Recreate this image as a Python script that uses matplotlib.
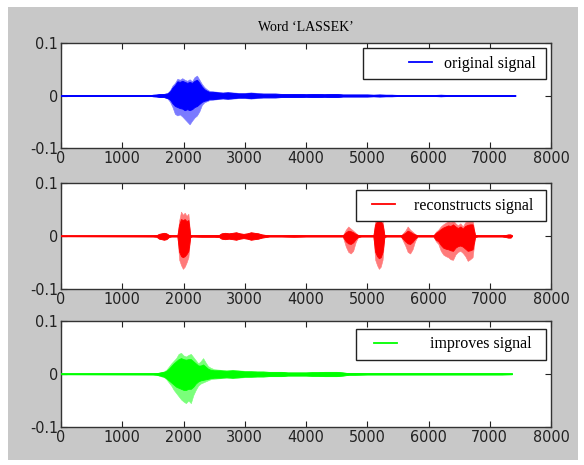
import matplotlib
matplotlib.use("Agg")
import matplotlib.pyplot as plt
from matplotlib.patches import Rectangle
from matplotlib.legend_handler import HandlerLine2D
from matplotlib import font_manager
import numpy as np

# ---------------- data (amplitudes in units of 0.001) ----------------
title = "Word \u2018LASSEK\u2019"
labels = ["original signal", "reconstructs signal", "improves signal"]
x_ticks = [0, 1000, 2000, 3000, 4000, 5000, 6000, 7000, 8000]
y_ticks = [-0.1, 0, 0.1]
y_ticklabels = ["-0.1", "0", "0.1"]

# original signal envelope
orig_x = [0, 1450, 1500, 1560, 1620, 1680, 1740, 1780, 1820, 1860, 1900, 1940, 1980, 2020,
          2060, 2100, 2140, 2180, 2220, 2260, 2300, 2340, 2380, 2420, 2480, 2560, 2640, 2720,
          2800, 2900, 3000, 3100, 3200, 3300, 3400, 3500, 3600, 3700, 3800, 3900, 4000, 4100,
          4200, 4300, 4400, 4500, 4600, 4700, 4800, 4900, 5000, 5100, 5200, 5300, 5400, 5500,
          5700, 5900, 6100, 6200, 6300, 6500, 6700, 6900, 7100, 7300, 7420]
orig_hi = [0.5, 0.5, 1.5, 2, 3, 3, 5, 10, 19, 24, 32, 30, 33, 30, 28, 31, 27, 35, 38, 30, 22, 16,
           12, 9, 8, 7, 6, 7, 6, 5, 5, 6, 5, 4, 4, 4, 3, 3, 3, 3, 2.5, 3, 3, 2.5, 3, 3, 2, 2, 2,
           2, 2, 1.5, 2, 1.5, 1.5, 1, 1, 1, 1, 1.5, 1, 1, 1, 1, 1, 1, 0.5]
orig_lo = [0.5, 0.5, 1.5, 2, 3, 3, 6, 12, 22, 35, 38, 36, 40, 45, 50, 55, 48, 42, 38, 30, 18, 13,
           11, 9, 8, 7, 6, 7, 6, 5, 5, 6, 5, 4, 4, 4, 3, 3, 3, 3, 2.5, 3, 3, 2.5, 3, 3, 2, 2, 2,
           2, 2, 1.5, 2, 1.5, 1.5, 1, 1, 1, 1, 1.5, 1, 1, 1, 1, 1, 1, 0.5]
orig_core_hi = [0.5, 0.5, 1.5, 2, 3, 3, 4, 8, 15, 20, 27, 26, 28, 26, 24, 26, 24, 28, 30, 24, 17,
                12, 9, 7, 7, 6, 5, 6, 5, 4, 4, 5, 4, 3.5, 3.5, 3.5, 3, 3, 3, 3, 2.5, 3, 3, 2.5,
                3, 3, 2, 2, 2, 2, 2, 1.5, 2, 1.5, 1.5, 1, 1, 1, 1, 1.5, 1, 1, 1, 1, 1, 1, 0.5]
orig_core_lo = [0.5, 0.5, 1.5, 2, 3, 3, 5, 8, 15, 20, 22, 24, 25, 28, 26, 28, 26, 22, 20, 16, 12,
                10, 9, 7, 7, 6, 5, 6, 5, 4, 4, 5, 4, 3.5, 3.5, 3.5, 3, 3, 3, 3, 2.5, 3, 3, 2.5,
                3, 3, 2, 2, 2, 2, 2, 1.5, 2, 1.5, 1.5, 1, 1, 1, 1, 1.5, 1, 1, 1, 1, 1, 1, 0.5]

# reconstructed signal envelope
rec_x = [0, 1500, 1560, 1600, 1640, 1680, 1720, 1760, 1800, 1900, 1930, 1960, 1990, 2020, 2050,
         2080, 2110, 2140, 2300, 2500, 2580, 2620, 2680, 2740, 2800, 2860, 2920, 2980, 3040,
         3100, 3160, 3220, 3280, 3340, 3400, 3600, 3800, 4000, 4200, 4400, 4600, 4650, 4690,
         4730, 4770, 4810, 4850, 4900, 5000, 5100, 5130, 5160, 5190, 5220, 5250, 5280, 5310,
         5340, 5400, 5550, 5620, 5660, 5700, 5740, 5780, 5820, 5900, 6000, 6080, 6120, 6160,
         6200, 6240, 6280, 6320, 6360, 6400, 6440, 6480, 6520, 6560, 6600, 6640, 6680, 6720,
         6760, 6800, 6900, 7000, 7100, 7200, 7260, 7300, 7340, 7360]
rec_hi = [0.5, 1, 1.5, 4, 5, 6, 5, 2, 1, 1, 30, 46, 40, 44, 38, 42, 2, 1, 1.5, 1.5, 2, 5, 6, 5,
          6, 7, 5, 4, 5, 7, 6, 5, 3, 2, 1, 1, 1.5, 1, 1, 1, 1, 12, 18, 14, 10, 6, 2, 1, 1, 1, 30,
          35, 35, 35, 30, 2, 1, 1, 1, 1, 10, 18, 12, 8, 4, 1, 1, 1, 1, 8, 12, 18, 22, 25, 28, 26,
          30, 24, 20, 24, 18, 26, 28, 30, 30, 2, 1, 1, 1, 1, 1, 2, 3, 3, 0.5]
rec_lo = [0.5, 1, 1.5, 5, 6, 7, 6, 2, 1, 1, 45, 55, 62, 58, 50, 40, 2, 1, 1.5, 1.5, 2, 5, 6, 5,
          6, 7, 5, 4, 5, 7, 6, 5, 3, 2, 1, 1, 1.5, 1, 1, 1, 1, 20, 30, 33, 28, 12, 2, 1, 1, 1, 45,
          55, 62, 58, 45, 2, 1, 1, 1, 1, 18, 30, 33, 25, 10, 1, 1, 1, 1, 10, 15, 28, 35, 38, 40,
          44, 45, 35, 30, 28, 32, 38, 47, 44, 40, 2, 1, 1, 1, 1, 1, 2, 3, 3, 0.5]
rec_core_hi = [0.5, 1, 1.5, 4, 5, 6, 5, 2, 1, 1, 22, 32, 30, 32, 28, 30, 2, 1, 1.5, 1.5, 2, 5, 6,
               5, 6, 7, 5, 4, 5, 7, 6, 5, 3, 2, 1, 1, 1.5, 1, 1, 1, 1, 7, 10, 9, 7, 4, 2, 1, 1,
               1, 22, 28, 28, 28, 22, 2, 1, 1, 1, 1, 6, 10, 8, 5, 3, 1, 1, 1, 1, 6, 9, 13, 16, 18,
               20, 19, 22, 18, 15, 18, 14, 19, 21, 22, 22, 2, 1, 1, 1, 1, 1, 2, 3, 3, 0.5]
rec_core_lo = [0.5, 1, 1.5, 5, 6, 7, 6, 2, 1, 1, 30, 38, 40, 38, 34, 28, 2, 1, 1.5, 1.5, 2, 5, 6,
               5, 6, 7, 5, 4, 5, 7, 6, 5, 3, 2, 1, 1, 1.5, 1, 1, 1, 1, 10, 14, 15, 12, 6, 2, 1, 1,
               1, 30, 38, 42, 40, 30, 2, 1, 1, 1, 1, 10, 14, 15, 11, 5, 1, 1, 1, 1, 7, 10, 17, 22,
               24, 25, 27, 28, 22, 19, 18, 20, 24, 28, 27, 25, 2, 1, 1, 1, 1, 1, 2, 3, 3, 0.5]

# improved signal envelope
imp_x = [0, 1500, 1560, 1620, 1680, 1720, 1760, 1800, 1840, 1880, 1920, 1960, 2000, 2040, 2080,
         2120, 2160, 2200, 2240, 2280, 2320, 2360, 2400, 2440, 2500, 2600, 2700, 2800, 2900,
         3000, 3100, 3200, 3300, 3400, 3500, 3600, 3700, 3800, 3900, 4000, 4100, 4200, 4300,
         4400, 4500, 4600, 4700, 4800, 5000, 5200, 5400, 5600, 5800, 6000, 6200, 6400, 6600,
         6800, 7000, 7200, 7360]
imp_hi = [0.5, 1, 1.5, 3, 5, 8, 14, 20, 25, 30, 38, 40, 35, 33, 36, 38, 32, 26, 20, 24, 30, 22,
          15, 12, 9, 8, 7, 8, 7, 6, 6, 5, 5, 4, 4, 4, 3, 3, 3, 3, 3.5, 3.5, 4, 4, 4, 3, 1.5, 1.5,
          1, 1, 1, 1, 1, 1, 1, 1, 1, 1, 1, 1, 0.5]
imp_lo = [0.5, 1, 1.5, 4, 6, 10, 16, 22, 30, 36, 42, 48, 52, 55, 50, 55, 40, 30, 22, 18, 16, 14,
          12, 10, 9, 8, 7, 8, 7, 6, 6, 5, 5, 4, 4, 4, 3, 3, 3, 3, 3.5, 3.5, 4, 4, 4, 3, 1.5, 1.5,
          1, 1, 1, 1, 1, 1, 1, 1, 1, 1, 1, 1, 0.5]
imp_core_hi = [0.5, 1, 1.5, 3, 4, 6, 10, 15, 20, 24, 28, 30, 28, 27, 28, 28, 24, 20, 16, 16, 18,
               14, 10, 8, 7, 7, 6, 7, 6, 5, 5, 4.5, 4.5, 4, 4, 4, 3, 3, 3, 3, 3.5, 3.5, 4, 4, 4,
               3, 1.5, 1.5, 1, 1, 1, 1, 1, 1, 1, 1, 1, 1, 1, 1, 0.5]
imp_core_lo = [0.5, 1, 1.5, 3, 5, 8, 12, 16, 20, 24, 26, 28, 30, 30, 28, 28, 24, 18, 14, 12, 11,
               10, 9, 8, 7, 7, 6, 7, 6, 5, 5, 4.5, 4.5, 4, 4, 4, 3, 3, 3, 3, 3.5, 3.5, 4, 4, 4,
               3, 1.5, 1.5, 1, 1, 1, 1, 1, 1, 1, 1, 1, 1, 1, 1, 0.5]

signals = [
    (orig_x, orig_hi, orig_lo, orig_core_hi, orig_core_lo),
    (rec_x, rec_hi, rec_lo, rec_core_hi, rec_core_lo),
    (imp_x, imp_hi, imp_lo, imp_core_hi, imp_core_lo),
]
colors = ["#0000ff", "#ff0000", "#00ff00"]
light_colors = ["#7a7aff", "#ff7a7a", "#7aff7a"]

# ---------------- fonts ----------------
tick_prop = None
for f in font_manager.fontManager.ttflist:
    if f.name == "Liberation Sans Narrow" and f.weight in (400, "normal") and f.style == "normal":
        tick_prop = font_manager.FontProperties(fname=f.fname)
        break
if tick_prop is None:
    for f in font_manager.fontManager.ttflist:
        if f.name == "DejaVu Sans" and "ondensed" in f.fname and "Bold" not in f.fname \
                and "Oblique" not in f.fname:
            tick_prop = font_manager.FontProperties(fname=f.fname)
            break
tick_size = 11.5
if tick_prop is None:
    tick_prop = font_manager.FontProperties(family="Liberation Sans")
    tick_size = 10.5
tick_prop.set_size(tick_size)
serif_font = "Liberation Serif"

# ---------------- figure ----------------
W, H = 584, 465
fig = plt.figure(figsize=(W / 100, H / 100), dpi=100)
fig.patch.set_facecolor("white")
fig.add_artist(Rectangle((8 / W, 1 - 460 / H), (578 - 8) / W, (460 - 7) / H,
                         transform=fig.transFigure, facecolor="#c8c8c8",
                         edgecolor="none", zorder=-10))

left, right = 61 / W, 551 / W
tops = [43, 183, 321]
bottoms = [148, 289, 427]

# legend layout (axes fractions / font-size units)
leg_x0 = [0.616, 0.602, 0.602]
leg_top = [0.952, 0.934, 0.925]
leg_handlelen = [3.84, 1.97, 2.09]
leg_xpad = [2.4, 0.53, 0.66]
leg_textpad = [0.75, 1.19, 2.06]

for i in range(3):
    ax = fig.add_axes([left, 1 - bottoms[i] / H, right - left, (bottoms[i] - tops[i]) / H])
    xs, hi, lo, chi, clo = signals[i]
    xs = np.array(xs, dtype=float)
    hi = np.array(hi) / 1000.0
    lo = -np.array(lo) / 1000.0
    chi = np.array(chi) / 1000.0
    clo = -np.array(clo) / 1000.0
    ax.fill_between(xs, lo, hi, color=light_colors[i], linewidth=0.4, zorder=2)
    ax.fill_between(xs, clo, chi, color=colors[i], linewidth=0.6, zorder=3)
    line, = ax.plot(xs, np.zeros_like(xs), color=colors[i], lw=1.3, zorder=4, label=labels[i])

    ax.set_xlim(0, 8000)
    ax.set_ylim(-0.1, 0.1)
    ax.set_xticks(x_ticks)
    ax.set_xticklabels([str(t) for t in x_ticks])
    ax.set_yticks(y_ticks)
    ax.set_yticklabels(y_ticklabels)
    ax.tick_params(direction="in", length=4, width=0.8, top=True, right=True,
                   pad=2, colors="#222222")
    for lab in ax.get_xticklabels() + ax.get_yticklabels():
        lab.set_fontproperties(tick_prop)
    for sp in ax.spines.values():
        sp.set_color("#333333")
        sp.set_linewidth(1.0)
    ax.set_facecolor("white")

    leg = ax.legend(handles=[line], loc="upper left", mode="expand",
                    bbox_to_anchor=(leg_x0[i], leg_top[i], 0.99 - leg_x0[i], 0.0),
                    handler_map={line: HandlerLine2D(xpad=leg_xpad[i])},
                    fancybox=False, edgecolor="#222222", framealpha=1,
                    prop={"family": serif_font, "size": 11.5},
                    handlelength=leg_handlelen[i], handletextpad=leg_textpad[i],
                    borderpad=0.47, borderaxespad=0.0)
    leg.get_frame().set_linewidth(1.0)
    leg.set_zorder(10)
    if i == 0:
        ax.set_title(title, fontfamily=serif_font, fontsize=10, pad=9)

fig.savefig("out.png", dpi=100)
